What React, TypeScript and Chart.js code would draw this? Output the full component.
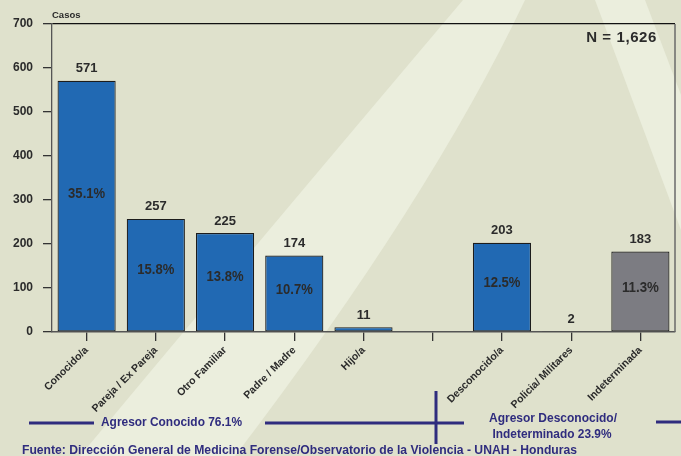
import React, { useEffect, useRef } from "react";
import { Chart, registerables } from "chart.js";

Chart.register(...registerables);

const categories = [
  "Conocido/a",
  "Pareja / Ex Pareja",
  "Otro Familiar",
  "Padre / Madre",
  "Hijo/a",
  "",
  "Desconocido/a",
  "Policia/ Militares",
  "Indeterminada",
];
const casos: (number | null)[] = [571, 257, 225, 174, 11, null, 203, 2, 183];
const porcentajes = ["35.1%", "15.8%", "13.8%", "10.7%", "", "", "12.5%", "", "11.3%"];
const yTicks = [0, 100, 200, 300, 400, 500, 600, 700];
const grupoConocido = "Agresor Conocido 76.1%";
const grupoDesconocido = ["Agresor Desconocido/", "Indeterminado 23.9%"];
const totalTexto = "N = 1,626";
const ejeTitulo = "Casos";
const fuente =
  "Fuente: Dirección General de Medicina Forense/Observatorio de la Violencia - UNAH - Honduras";

const BLUE = "#2169b3";
const GRAY = "#7c7c82";
const NAVY = "#2f2c7e";
const TEXT = "#2b2b2b";
const BG = "#dfe1cc";
const LIGHT = "#ebeedd";
const FONT = "'Liberation Sans', Arial, sans-serif";

const decorPlugin = {
  id: "decor",
  beforeDraw(chart: any) {
    const { ctx, width, height } = chart;
    ctx.save();
    ctx.fillStyle = BG;
    ctx.fillRect(0, 0, width, height);
    ctx.fillStyle = LIGHT;
    // left sweeping band
    ctx.beginPath();
    ctx.moveTo(463, 0);
    ctx.lineTo(525, 0);
    ctx.quadraticCurveTo(430, 200, 235, 456);
    ctx.lineTo(80, 456);
    ctx.quadraticCurveTo(260, 240, 463, 0);
    ctx.closePath();
    ctx.fill();
    // right band
    ctx.beginPath();
    ctx.moveTo(595, 0);
    ctx.lineTo(645, 0);
    ctx.lineTo(681, 95);
    ctx.lineTo(681, 230);
    ctx.closePath();
    ctx.fill();
    ctx.restore();
  },
  afterDraw(chart: any) {
    const { ctx, chartArea } = chart;
    ctx.save();
    // right frame line
    ctx.strokeStyle = "#6a6a6a";
    ctx.lineWidth = 1.5;
    ctx.beginPath();
    ctx.moveTo(chartArea.right, chartArea.top);
    ctx.lineTo(chartArea.right, chartArea.bottom);
    ctx.stroke();

    // axis title & N
    ctx.fillStyle = TEXT;
    ctx.textBaseline = "middle";
    ctx.textAlign = "left";
    ctx.font = `bold 9.5px ${FONT}`;
    ctx.fillText(ejeTitulo, chartArea.left, 15);
    ctx.font = `bold 15px ${FONT}`;
    ctx.textAlign = "right";
    (ctx as any).letterSpacing = "0.6px";
    ctx.fillText(totalTexto, chartArea.right - 18, 38);
    (ctx as any).letterSpacing = "0px";

    // group annotations
    ctx.strokeStyle = NAVY;
    ctx.lineWidth = 3;
    const seg = (x1: number, y1: number, x2: number, y2: number) => {
      ctx.beginPath();
      ctx.moveTo(x1, y1);
      ctx.lineTo(x2, y2);
      ctx.stroke();
    };
    seg(29, 423, 94, 423);
    seg(265, 423, 464, 423);
    seg(436, 391, 436, 444);
    seg(656, 422, 681, 422);

    ctx.fillStyle = NAVY;
    ctx.textAlign = "center";
    ctx.font = `bold 12.5px ${FONT}`;
    ctx.fillText(grupoConocido, 171.5, 423, 141);
    ctx.fillText(grupoDesconocido[0], 553, 419, 128);
    ctx.fillText(grupoDesconocido[1], 552, 435, 119);

    ctx.textAlign = "left";
    ctx.font = `bold 12.2px ${FONT}`;
    ctx.fillText(fuente, 22, 450.5, 555);
    ctx.restore();
  },
  afterDatasetsDraw(chart: any) {
    const { ctx } = chart;
    const meta = chart.getDatasetMeta(0);
    ctx.save();
    ctx.fillStyle = TEXT;
    ctx.textAlign = "center";
    ctx.textBaseline = "middle";
    meta.data.forEach((bar: any, i: number) => {
      const v = casos[i];
      if (v === null || v === undefined) return;
      const { x, y, base } = bar.getProps(["x", "y", "base"], true);
      ctx.font = `bold 13px ${FONT}`;
      ctx.fillText(String(v), x, y - 12, 22);
      const p = porcentajes[i];
      if (p) {
        ctx.font = `bold 15px ${FONT}`;
        ctx.fillText(p, x, base - 0.55 * (base - y), 37);
      }
    });
    ctx.restore();
  },
};

export default function App() {
  const ref = useRef<HTMLCanvasElement | null>(null);
  useEffect(() => {
    document.body.style.margin = "0";
    if (!ref.current) return;
    const chart = new Chart(ref.current, {
      type: "bar",
      data: {
        labels: categories,
        datasets: [
          {
            data: casos,
            backgroundColor: categories.map((c) => (c === "Indeterminada" ? GRAY : BLUE)),
            borderColor: "#1c1c1c",
            borderWidth: 1.2,
            borderSkipped: false,
            categoryPercentage: 1,
            barPercentage: 0.84,
          },
        ],
      },
      options: {
        responsive: false,
        animation: false,
        devicePixelRatio: 1,
        layout: { padding: { top: 24, right: 6, left: 0, bottom: 0 } },
        plugins: {
          legend: { display: false },
          tooltip: { enabled: false },
          title: { display: false },
        },
        scales: {
          x: {
            offset: true,
            grid: {
              display: true,
              drawOnChartArea: false,
              drawTicks: true,
              tickLength: 9,
              offset: false,
              color: "#333",
              lineWidth: 1.3,
            },
            border: { display: true, color: "#555", width: 1.5 },
            ticks: {
              autoSkip: false,
              maxRotation: 45,
              minRotation: 45,
              padding: 3,
              color: TEXT,
              font: { family: FONT, weight: "bold", size: 10.5 },
            },
            afterFit: (s: any) => {
              s.height = 124;
            },
          },
          y: {
            min: 0,
            max: 700,
            afterBuildTicks: (s: any) => {
              s.ticks = yTicks.map((v) => ({ value: v }));
            },
            grid: {
              display: true,
              drawOnChartArea: true,
              drawTicks: true,
              tickLength: 9,
              color: (c: any) => (c.tick && c.tick.value === 700 ? "#111" : "rgba(0,0,0,0)"),
              tickColor: "#333",
              lineWidth: 1.3,
            },
            border: { display: true, color: "#555", width: 1.3 },
            ticks: {
              padding: 10,
              color: TEXT,
              font: { family: FONT, weight: "bold", size: 12 },
            },
            afterFit: (s: any) => {
              s.width = 52;
            },
          },
        },
      },
      plugins: [decorPlugin],
    });
    return () => chart.destroy();
  }, []);
  return (
    <div style={{ width: 681, height: 456 }}>
      <canvas ref={ref} width={681} height={456} style={{ display: "block" }} />
    </div>
  );
}
